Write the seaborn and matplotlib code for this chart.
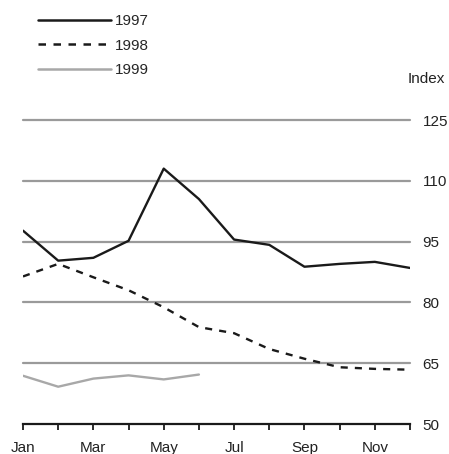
import matplotlib
matplotlib.use("Agg")
import matplotlib.pyplot as plt
import seaborn as sns
import pandas as pd
from matplotlib.lines import Line2D

months = ["Jan", "Feb", "Mar", "Apr", "May", "Jun", "Jul", "Aug", "Sep", "Oct", "Nov", "Dec"]
v1997 = [97.7, 90.3, 91.0, 95.2, 113.0, 105.5, 95.5, 94.2, 88.8, 89.5, 90.0, 88.5]
v1998 = [86.4, 89.5, 86.2, 83.0, 78.8, 73.9, 72.4, 68.5, 66.1, 64.0, 63.6, 63.4]
v1999 = [61.9, 59.2, 61.2, 62.0, 61.0, 62.2]
yticks = [50, 65, 80, 95, 110, 125]
xlabels = ["Jan", "", "Mar", "", "May", "", "Jul", "", "Sep", "", "Nov", ""]

rows = []
for yr, vals in (("1997", v1997), ("1998", v1998), ("1999", v1999)):
    for i, v in enumerate(vals):
        rows.append({"month": i, "year": yr, "value": v})
df = pd.DataFrame(rows)

sns.set_theme(style="white")
plt.rcParams["font.family"] = ["Liberation Sans", "DejaVu Sans"]
plt.rcParams["font.size"] = 11

fig = plt.figure(figsize=(4.49, 4.54), dpi=100)
ax = fig.add_axes([23 / 449, 30 / 454, (410 - 23) / 449, (424 - 120) / 454])

for y in yticks[1:]:
    ax.axhline(y, color="#9a9a9a", lw=1.6, zorder=1, clip_on=False)

palette = {"1997": "#1a1a1a", "1998": "#1a1a1a", "1999": "#a8a8a8"}
dashes = {"1997": "", "1998": (3, 3), "1999": ""}
sns.lineplot(data=df, x="month", y="value", hue="year", style="year",
             palette=palette, dashes=dashes, lw=1.7, ax=ax, legend=False, zorder=3)

ax.set_xlim(0, 11)
ax.set_ylim(50, 125)
ax.set_xticks(range(12))
ax.set_xticklabels(xlabels)
ax.set_yticks(yticks)
ax.yaxis.tick_right()
ax.tick_params(axis="y", length=0, pad=9, labelsize=11, colors="#222222")
ax.tick_params(axis="x", direction="out", length=4, width=1.3, color="#1a1a1a",
               pad=8, labelsize=11, bottom=True, labelcolor="#222222")
for s in ["top", "left", "right"]:
    ax.spines[s].set_visible(False)
ax.spines["bottom"].set_color("#1a1a1a")
ax.spines["bottom"].set_linewidth(1.6)
ax.set_xlabel("")
ax.set_ylabel("")
ax.text(408 / 449, 1 - 79 / 454, "Index", transform=fig.transFigure, ha="left", va="center",
        fontsize=11, color="#222222")

handles = [Line2D([], [], color=palette[y], lw=1.8,
                  linestyle="-" if dashes[y] == "" else (0, dashes[y]))
           for y in ("1997", "1998", "1999")]
fig.legend(handles, ["1997", "1998", "1999"], loc="upper left",
           bbox_to_anchor=(38 / 449, 1 - 14 / 454), frameon=False,
           handlelength=4.8, handletextpad=0.2, labelspacing=0.69,
           borderpad=0, borderaxespad=0, fontsize=11)

fig.savefig("out.png", dpi=100)
